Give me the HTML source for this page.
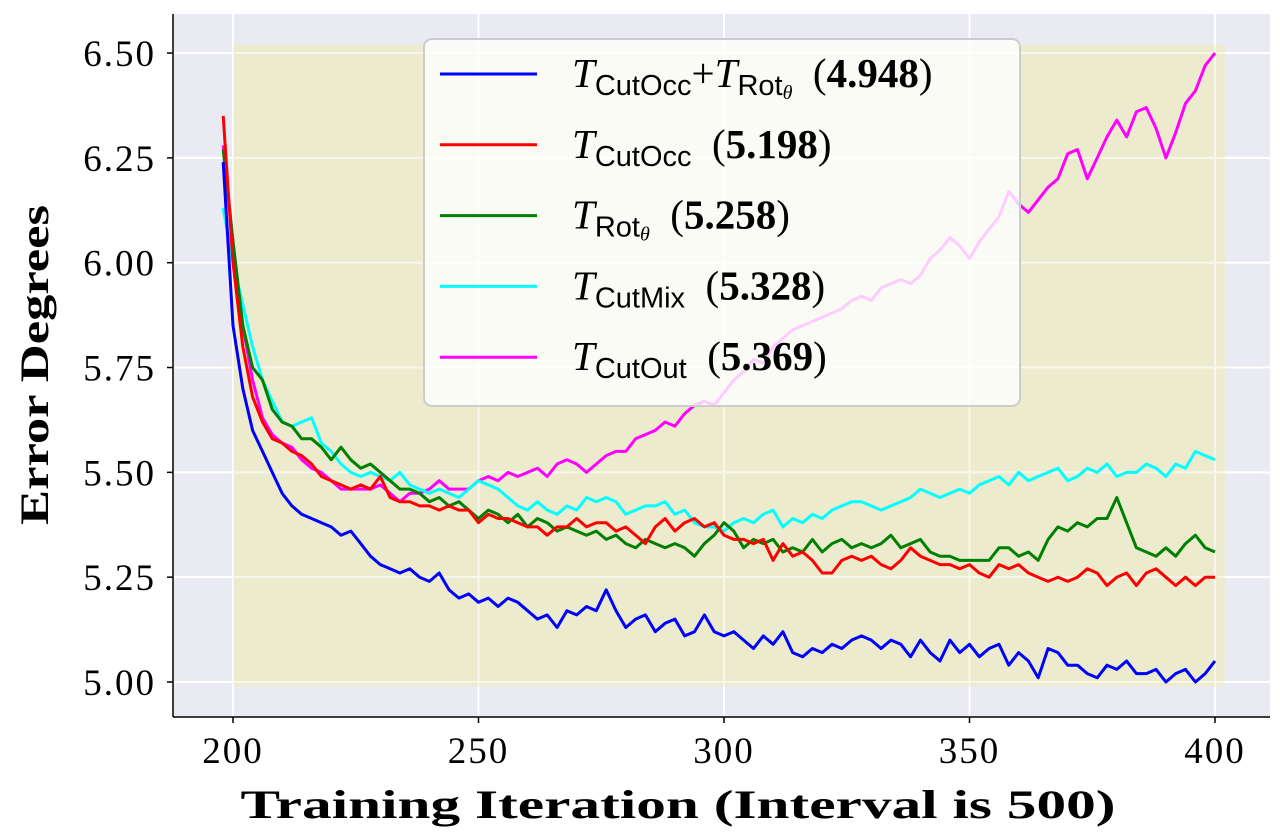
<!DOCTYPE html>
<html><head><meta charset="utf-8"><style>
body{margin:0;background:#fff;}
svg{display:block;font-family:"Liberation Serif",serif;}
</style></head><body>
<svg id="chart" width="1280" height="840">
<rect x="173" y="14" width="1097" height="703" fill="#eaeaf2"/>
<g id="grid"></g>
<rect id="shade" fill="#ecebcb" opacity="0.95"/>
<g id="gridTop" opacity="0.6"></g>
<g id="lines"></g>
<line x1="173" y1="14" x2="173" y2="717" stroke="#000" stroke-width="1.5"/>
<line x1="173" y1="717" x2="1270" y2="717" stroke="#000" stroke-width="1.5"/>
<g id="ticks"></g>
<text x="678" y="818" text-anchor="middle" font-size="40" font-weight="bold" textLength="875" lengthAdjust="spacingAndGlyphs">Training Iteration (Interval is 500)</text>
<text transform="translate(48,365) rotate(-90)" text-anchor="middle" font-size="40" font-weight="bold" textLength="320" lengthAdjust="spacingAndGlyphs">Error Degrees</text>
<g id="legend">
<rect x="424" y="39" width="596" height="367" rx="8" fill="#fff" fill-opacity="0.8" stroke="#ccc" stroke-width="2"/>
</g>
</svg>
<script>
const xTicks=[200,250,300,350,400];
const yTicks=[5.00,5.25,5.50,5.75,6.00,6.25,6.50];
const iterations=[];for(let i=198;i<=400;i+=2)iterations.push(i);
const blue=[6.24,5.85,5.7,5.6,5.55,5.5,5.45,5.42,5.40,5.39,5.38,5.37,5.35,5.36,5.33,5.30,5.28,5.27,5.26,5.27,5.25,5.24,5.26,5.22,5.20,5.21,5.19,5.20,5.18,5.20,5.19,5.17,5.15,5.16,5.13,5.17,5.16,5.18,5.17,5.22,5.17,5.13,5.15,5.16,5.12,5.14,5.15,5.11,5.12,5.16,5.12,5.11,5.12,5.10,5.08,5.11,5.09,5.12,5.07,5.06,5.08,5.07,5.09,5.08,5.10,5.11,5.10,5.08,5.10,5.09,5.06,5.10,5.07,5.05,5.10,5.07,5.09,5.06,5.08,5.09,5.04,5.07,5.05,5.01,5.08,5.07,5.04,5.04,5.02,5.01,5.04,5.03,5.05,5.02,5.02,5.03,5.00,5.02,5.03,5.00,5.02,5.05];
const red=[6.35,6.0,5.8,5.68,5.62,5.58,5.57,5.55,5.54,5.52,5.49,5.48,5.47,5.46,5.47,5.46,5.49,5.44,5.43,5.43,5.42,5.42,5.41,5.42,5.41,5.41,5.38,5.40,5.39,5.39,5.38,5.37,5.37,5.35,5.37,5.37,5.39,5.37,5.38,5.38,5.36,5.37,5.35,5.33,5.37,5.39,5.36,5.38,5.39,5.37,5.38,5.35,5.34,5.34,5.33,5.34,5.29,5.33,5.30,5.31,5.29,5.26,5.26,5.29,5.30,5.29,5.30,5.28,5.27,5.29,5.32,5.30,5.29,5.28,5.28,5.27,5.28,5.26,5.25,5.28,5.27,5.28,5.26,5.25,5.24,5.25,5.24,5.25,5.27,5.26,5.23,5.25,5.26,5.23,5.26,5.27,5.25,5.23,5.25,5.23,5.25,5.25];
const green=[6.27,6.05,5.85,5.75,5.72,5.65,5.62,5.61,5.58,5.58,5.56,5.53,5.56,5.53,5.51,5.52,5.50,5.48,5.46,5.46,5.45,5.43,5.44,5.42,5.43,5.41,5.39,5.41,5.40,5.38,5.40,5.37,5.39,5.38,5.36,5.37,5.36,5.35,5.36,5.34,5.35,5.33,5.32,5.34,5.33,5.32,5.33,5.32,5.30,5.33,5.35,5.38,5.36,5.32,5.34,5.33,5.34,5.31,5.32,5.31,5.34,5.31,5.33,5.34,5.32,5.33,5.32,5.33,5.35,5.32,5.33,5.34,5.31,5.30,5.30,5.29,5.29,5.29,5.29,5.32,5.32,5.30,5.31,5.29,5.34,5.37,5.36,5.38,5.37,5.39,5.39,5.44,5.38,5.32,5.31,5.30,5.32,5.30,5.33,5.35,5.32,5.31];
const cyan=[6.13,6.0,5.9,5.8,5.72,5.67,5.62,5.61,5.62,5.63,5.57,5.55,5.52,5.50,5.49,5.50,5.49,5.48,5.50,5.47,5.46,5.45,5.46,5.45,5.44,5.46,5.48,5.47,5.46,5.44,5.42,5.41,5.43,5.41,5.40,5.42,5.41,5.44,5.43,5.44,5.43,5.40,5.41,5.42,5.42,5.43,5.40,5.41,5.38,5.37,5.37,5.36,5.38,5.39,5.38,5.40,5.41,5.37,5.39,5.38,5.40,5.39,5.41,5.42,5.43,5.43,5.42,5.41,5.42,5.43,5.44,5.46,5.45,5.44,5.45,5.46,5.45,5.47,5.48,5.49,5.47,5.50,5.48,5.49,5.50,5.51,5.48,5.49,5.51,5.50,5.52,5.49,5.50,5.50,5.52,5.51,5.49,5.52,5.51,5.55,5.54,5.53];
const magenta=[6.28,6.05,5.85,5.72,5.63,5.59,5.57,5.56,5.53,5.51,5.50,5.48,5.46,5.46,5.46,5.46,5.47,5.45,5.43,5.45,5.45,5.46,5.48,5.46,5.46,5.46,5.48,5.49,5.48,5.50,5.49,5.50,5.51,5.49,5.52,5.53,5.52,5.50,5.52,5.54,5.55,5.55,5.58,5.59,5.60,5.62,5.61,5.64,5.66,5.67,5.66,5.69,5.72,5.74,5.77,5.76,5.80,5.82,5.84,5.85,5.86,5.87,5.88,5.89,5.91,5.92,5.91,5.94,5.95,5.96,5.95,5.97,6.01,6.03,6.06,6.04,6.01,6.05,6.08,6.11,6.17,6.14,6.12,6.15,6.18,6.20,6.26,6.27,6.20,6.25,6.30,6.34,6.30,6.36,6.37,6.32,6.25,6.31,6.38,6.41,6.47,6.50];
const seriesNames=["cutocc-rot","cutocc","rot","cutmix","cutout"];
const seriesColors=["#0000ff","#ff0000","#008000","#00ffff","#ff00ff"];
const seriesData=[blue,red,green,cyan,magenta];

const NS="http://www.w3.org/2000/svg";
const xs=v=>233+(v-200)*4.91;
const ys=v=>682-(v-5)*419.3;
function mk(t,a,p){const e=document.createElementNS(NS,t);for(const k in a)e.setAttribute(k,a[k]);p.appendChild(e);return e;}
const grid=document.getElementById('grid'),gridTop=document.getElementById('gridTop'),ticks=document.getElementById('ticks');
[grid,gridTop].forEach(g=>{
xTicks.forEach(t=>{const l=mk('line',{x1:xs(t),x2:xs(t),y1:14,y2:717,stroke:'#fff','stroke-width':2},g);

});
yTicks.forEach(t=>{const l=mk('line',{x1:173,x2:1270,y1:ys(t),y2:ys(t),stroke:'#fff','stroke-width':2},g);

});
});
const sh=document.getElementById('shade');
sh.setAttribute('x',xs(200));sh.setAttribute('width',xs(402)-xs(200));
sh.setAttribute('y',ys(6.52));sh.setAttribute('height',ys(4.99)-ys(6.52));
xTicks.forEach(t=>{
const l=mk('line',{x1:xs(t),x2:xs(t),y1:717,y2:723,stroke:'#000','stroke-width':1.5},ticks);


const tx=mk('text',{x:xs(t),y:763,'text-anchor':'middle','font-size':37,'letter-spacing':2},ticks);tx.textContent=t;


});
yTicks.forEach(t=>{
const l=mk('line',{x1:167,x2:173,y1:ys(t),y2:ys(t),stroke:'#000','stroke-width':1.5},ticks);


const tx=mk('text',{x:156,y:ys(t)+13,'text-anchor':'end','font-size':37,'letter-spacing':2},ticks);tx.textContent=t.toFixed(2);


});
const lines=document.getElementById('lines');
for(let s=seriesData.length-1;s>=0;s--){
const d=seriesData[s].map((v,i)=>(i?'L':'M')+xs(iterations[i]).toFixed(1)+','+ys(v).toFixed(1)).join('');
const p=mk('path',{d:d,fill:'none',stroke:seriesColors[s],'stroke-width':3,'stroke-linejoin':'round'},lines);


}
const leg=document.getElementById('legend');
const subs=[['CutOcc','+',"Rot",'4.948'],['CutOcc','','','5.198'],['Rot','','','5.258'],['CutMix','','','5.328'],['CutOut','','','5.369']];
subs.forEach((s,i)=>{
const y=74+i*70.8;
const l=mk('line',{x1:440,x2:537,y1:y,y2:y,stroke:seriesColors[i],'stroke-width':3},leg);


const t=mk('text',{x:572,y:y+13,'font-size':41},leg);


let h='<tspan font-style="italic">T</tspan><tspan font-family="Liberation Sans, sans-serif" font-size="29" dy="8">'+s[0]+'</tspan>';
if(s[0]==='Rot')h+='<tspan font-style="italic" font-size="20" dy="4">θ</tspan><tspan dy="-12">  </tspan>';
else if(s[1]){h+='<tspan dy="-8">+</tspan><tspan font-style="italic">T</tspan><tspan font-family="Liberation Sans, sans-serif" font-size="29" dy="8">Rot</tspan><tspan font-style="italic" font-size="20" dy="4">θ</tspan><tspan dy="-12">  </tspan>';}
else h+='<tspan dy="-8">  </tspan>';
h+='(<tspan font-weight="bold">'+s[3]+'</tspan>)';
t.innerHTML=h;
t.setAttribute('xml:space','preserve');
t.style.whiteSpace='pre';
});
</script>
</body></html>
